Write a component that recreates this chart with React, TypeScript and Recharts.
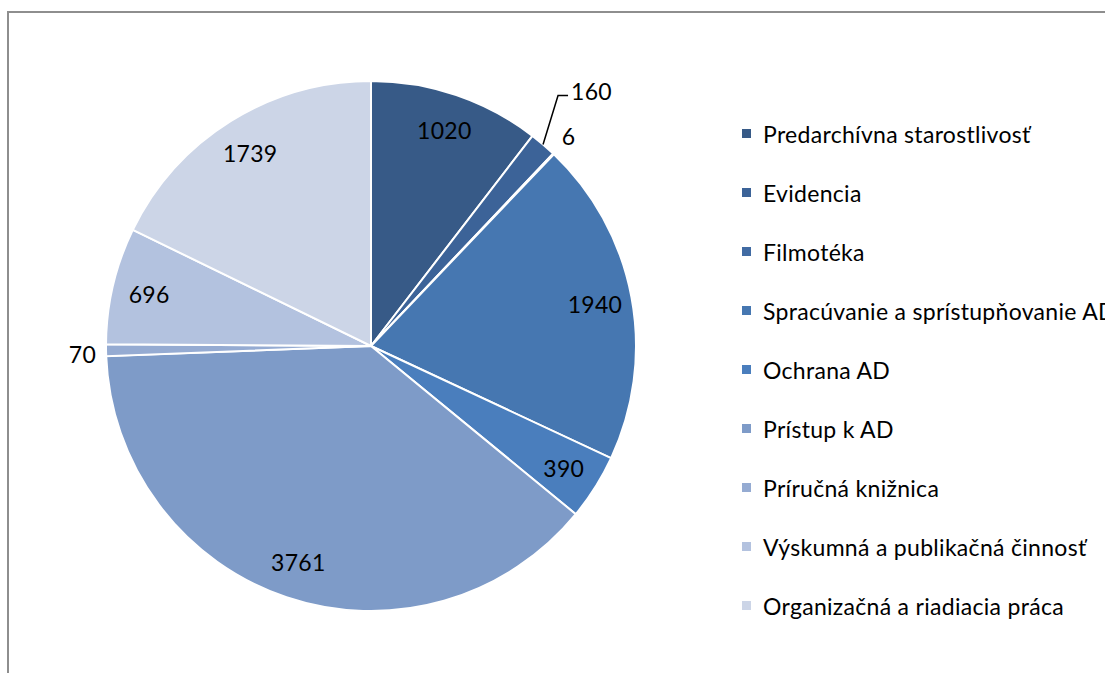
import React from "react"
import { PieChart, Pie, Cell, Legend } from "recharts"

const categories = [
  "Predarchívna starostlivosť",
  "Evidencia",
  "Filmotéka",
  "Spracúvanie a sprístupňovanie AD",
  "Ochrana AD",
  "Prístup k AD",
  "Príručná knižnica",
  "Výskumná a publikačná činnosť",
  "Organizačná a riadiacia práca",
]

const values = [1020, 160, 6, 1940, 390, 3761, 70, 696, 1739]

const colors = [
  "#375A87",
  "#3C6398",
  "#416BA3",
  "#4677B1",
  "#4A7EBD",
  "#7E9BC8",
  "#95ABD2",
  "#B3C2DF",
  "#CCD5E7",
]

const data = categories.map((name, i) => ({ name, value: values[i] }))

const FONT = "Lato, 'Open Sans', sans-serif"
const RAD = Math.PI / 180

const renderLabel = (props: any) => {
  const { cx, cy, midAngle, outerRadius, percent, value } = props
  const cos = Math.cos(-midAngle * RAD)
  const sin = Math.sin(-midAngle * RAD)
  const common = { fontFamily: FONT, fontSize: 23, letterSpacing: 0.3, fill: "#000" }

  if (percent >= 0.02) {
    const r = outerRadius * 0.86
    return (
      <text x={cx + r * cos} y={cy + r * sin} textAnchor="middle" dominantBaseline="central" {...common}>
        {value}
      </text>
    )
  }

  const ex = cx + outerRadius * cos
  const ey = cy + outerRadius * sin

  // small slice with a leader line
  if (value >= 100) {
    const mx = ex + 15
    const my = ey - 49
    return (
      <g>
        <polyline points={`${ex},${ey} ${mx},${my} ${mx + 10},${my}`} fill="none" stroke="#000" strokeWidth={1.5} />
        <text x={mx + 13} y={my - 4} textAnchor="start" dominantBaseline="central" {...common}>
          {value}
        </text>
      </g>
    )
  }

  const r = outerRadius + (cos < 0 ? 10 : 22)
  return (
    <text
      x={cx + r * cos}
      y={cy + r * sin + (cos < 0 ? 4 : -2)}
      textAnchor={cos < 0 ? "end" : "middle"}
      dominantBaseline="central"
      {...common}
    >
      {value}
    </text>
  )
}

const LegendContent = () => (
  <div style={{ fontFamily: FONT, fontSize: 23, color: "#000", whiteSpace: "nowrap" }}>
    {data.map((d, i) => (
      <div key={d.name} style={{ display: "flex", alignItems: "center", height: 59 }}>
        <span style={{ display: "inline-block", width: 9, height: 9, background: colors[i], marginRight: 12 }} />
        <span style={{ letterSpacing: 0.3 }}>{d.name}</span>
      </div>
    ))}
  </div>
)

export default function App() {
  return (
    <div style={{ position: "fixed", left: 0, top: 0, width: 1105, height: 673, overflow: "hidden", background: "#fff" }}>
      <div
        style={{
          position: "absolute",
          left: 7,
          top: 11,
          width: 1200,
          height: 800,
          border: "2px solid #8E8E8E",
        }}
      />
      <div style={{ position: "absolute", left: 0, top: 0 }}>
        <PieChart width={1105} height={673} margin={{ top: 0, right: 0, bottom: 0, left: 0 }}>
          <Pie
            data={data}
            dataKey="value"
            nameKey="name"
            cx={371}
            cy={346}
            outerRadius={265}
            startAngle={90}
            endAngle={-270}
            stroke="#fff"
            strokeWidth={2}
            label={renderLabel}
            labelLine={false}
            isAnimationActive={false}
          >
            {data.map((d, i) => (
              <Cell key={d.name} fill={colors[i]} />
            ))}
          </Pie>
          <Legend
            content={<LegendContent />}
            layout="vertical"
            wrapperStyle={{ position: "absolute", left: 742, top: 104, width: 420 }}
          />
        </PieChart>
      </div>
    </div>
  )
}
